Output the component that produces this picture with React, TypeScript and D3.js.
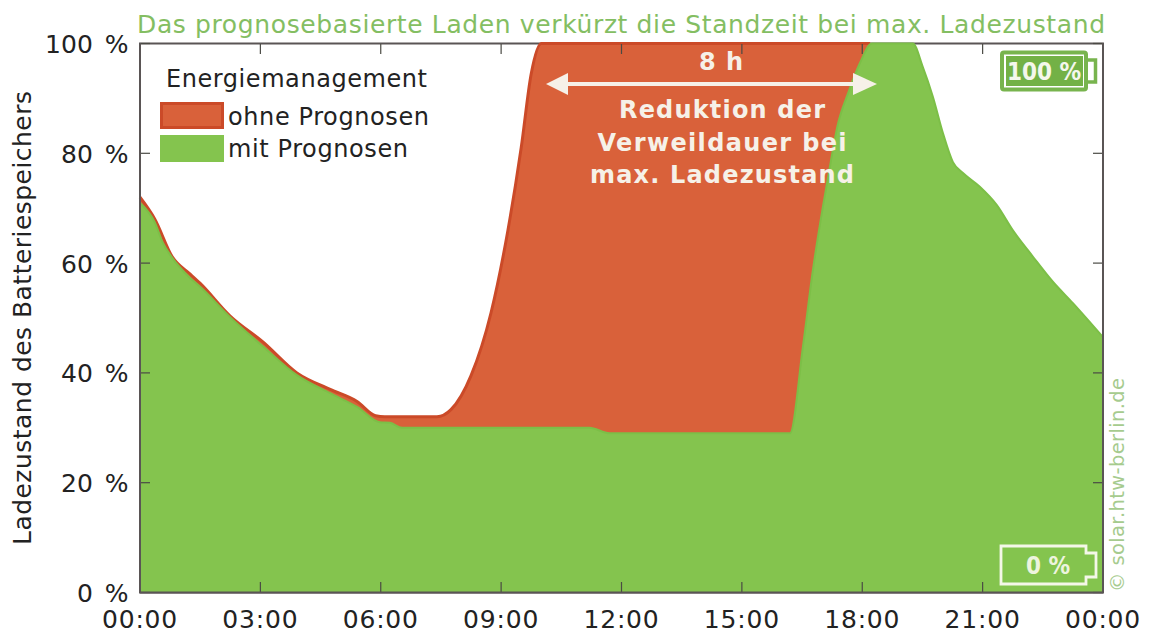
import React from "react";
import * as d3 from "d3";

const W = 1152, H = 640;
const greenHours = [0,.37,.57,.8,1.25,1.5,2.24,3.07,3.91,4.74,5.41,5.98,6.23,6.53,11.2,11.7,16.2,16.52,16.77,17.02,17.15,17.4,17.65,17.94,18.24,19.26,19.51,19.76,20.01,20.26,20.51,20.93,21.35,21.75,22.25,22.75,23.25,24];
const greenValues = [71,67.4,63.7,61,57.3,55.7,50.2,44.8,39.6,36.3,33.8,31,30.9,30,30,29,29,44.7,58.7,70.3,75.7,85.5,91,96.4,100,100,95.7,90.3,83.7,78.4,76.4,73.9,70.6,66,61.2,56.6,52.7,46.5];
const orangeHours = [0,.37,.8,1.25,1.5,2.24,3.07,3.91,4.74,5.41,5.87,6.1,7.4,7.75,8.25,8.75,9.17,9.5,9.75,10,18.2];
const orangeValues = [72,68,61.2,58,56.3,50.4,45.6,40,37,34.8,32.2,32,32,33.3,39.5,51,66,81,94.5,100,100];
const xTicks = [0,3,6,9,12,15,18,21,24];
const xLabels = ["00:00","03:00","06:00","09:00","12:00","15:00","18:00","21:00","00:00"];
const yTicks = [0,20,40,60,80,100];
const infoLines = ["Reduktion der","Verweildauer bei","max. Ladezustand"];
const infoWidths = [206,249,264];
const infoBaselines = [118,151,183];

const FONT = "'DejaVu Sans', sans-serif";
const GREEN = "#84C44E", GREEN_D = "#7CBF47", ORANGE = "#D9613A", ORANGE_D = "#CB4A28";
const AXIS = "#5a5555", TEXT = "#222", PALE = "#F6F1E8", TITLE = "#84BE62";

export default function App() {
  const x = d3.scaleLinear().domain([0, 24]).range([140, 1103]);
  const y = d3.scaleLinear().domain([0, 100]).range([592.5, 43.5]);
  const curve = d3.curveMonotoneX;
  const area = d3.area<[number, number]>().x(d => x(d[0])).y0(y(0)).y1(d => y(d[1])).curve(curve);
  const line = d3.line<[number, number]>().x(d => x(d[0])).y(d => y(d[1])).curve(curve);
  const green = greenHours.map((h, i) => [h, greenValues[i]] as [number, number]);
  const orange = orangeHours.map((h, i) => [h, orangeValues[i]] as [number, number]);
  return (
    <svg width={W} height={H} viewBox={`0 0 ${W} ${H}`} style={{ position: "absolute", left: 0, top: 0, display: "block" }} fontFamily={FONT}>
      <rect width={W} height={H} fill="#fff" />
      <text x={621} y={33} textAnchor="middle" fontSize={25} fill={TITLE} textLength={968} lengthAdjust="spacing">Das prognosebasierte Laden verkürzt die Standzeit bei max. Ladezustand</text>
      <rect x={140} y={43.5} width={963} height={549} fill="none" stroke={AXIS} strokeWidth={2} />
      <path d={area(orange) ?? ""} fill={ORANGE} />
      <path d={line(orange) ?? ""} fill="none" stroke={ORANGE_D} strokeWidth={3} />
      <path d={area(green) ?? ""} fill={GREEN} />
      <path d={line(green) ?? ""} fill="none" stroke={GREEN_D} strokeWidth={2} />
      <g stroke="#4a4a44" strokeWidth={1.2}>
        {xTicks.map(t => <g key={t}>
          <line x1={x(t)} x2={x(t)} y1={592} y2={582} />
          <line x1={x(t)} x2={x(t)} y1={44} y2={54} />
        </g>)}
        {yTicks.map(t => <g key={t}>
          <line x1={140} x2={150} y1={y(t)} y2={y(t)} />
          <line x1={1093} x2={1103} y1={y(t)} y2={y(t)} />
        </g>)}
      </g>
      <line x1={140} x2={140} y1={43} y2={593} stroke={AXIS} strokeWidth={2} />
      <line x1={140} x2={1103} y1={592.5} y2={592.5} stroke={AXIS} strokeWidth={2} />
      <line x1={1103} x2={1103} y1={43} y2={593} stroke={AXIS} strokeWidth={2} />
      {xTicks.map((t, i) => <text key={t} x={x(t)} y={628} textAnchor="middle" fontSize={25} letterSpacing={0.8} fill={TEXT}>{xLabels[i]}</text>)}
      {yTicks.map(t => <text key={t} x={128.5} y={y(t) + 9.5} textAnchor="end" fontSize={25} wordSpacing={4} fill={TEXT}>{`${t} %`}</text>)}
      <text transform="translate(31,318) rotate(-90)" textAnchor="middle" fontSize={25} fill={TEXT} textLength={454}>Ladezustand des Batteriespeichers</text>
      <text transform="translate(1124,485) rotate(-90)" textAnchor="middle" fontSize={19.5} fill="#A6CB8E" textLength={214}>© solar.htw-berlin.de</text>

      <text x={166} y={87} fontSize={24} fill={TEXT} textLength={261}>Energiemanagement</text>
      <rect x={161.5} y={103.5} width={61} height={24} fill={ORANGE} stroke={ORANGE_D} strokeWidth={3} />
      <rect x={160} y={135} width={64} height={27} fill={GREEN} />
      <text x={228} y={125} fontSize={24} fill={TEXT} textLength={201}>ohne Prognosen</text>
      <text x={228} y={157} fontSize={24} fill={TEXT} textLength={180}>mit Prognosen</text>

      <line x1={560} x2={860} y1={84} y2={84} stroke={PALE} strokeWidth={4} />
      <path d="M546 84 L568 73 L568 95 Z" fill={PALE} />
      <path d="M877 84 L853 73 L853 95 Z" fill={PALE} />
      <text x={721} y={70} textAnchor="middle" fontSize={24} fontWeight="bold" fill={PALE} textLength={44}>8 h</text>
      {infoLines.map((s, i) => <text key={s} x={722} y={infoBaselines[i]} textAnchor="middle" fontSize={24} fontWeight="bold" fill={PALE} textLength={infoWidths[i]}>{s}</text>)}

      <g>
        <path d="M1086 60 H1095.5 V82 H1086" fill="#fff" stroke="#78B44E" strokeWidth={3.5} />
        <rect x={1002} y={52.5} width={84} height={37} rx={2} fill="#fff" stroke="#78B44E" strokeWidth={4} />
        <rect x={1006} y={56} width={77} height={30} fill="#73B146" />
        <text x={1044} y={80} textAnchor="middle" fontSize={24} fontWeight="bold" fontFamily="'DejaVu Sans Condensed', 'DejaVu Sans', sans-serif" fill="#F4F7EC">100 %</text>
      </g>
      <g>
        <path d="M1001 546 H1086 V553 H1096 V577 H1086 V584 H1001 Z" fill="none" stroke="#F4F7E8" strokeWidth={2.8} />
        <text x={1048} y={574} textAnchor="middle" fontSize={24} fontWeight="bold" fontFamily="'DejaVu Sans Condensed', 'DejaVu Sans', sans-serif" fill="#EDF4DE">0 %</text>
      </g>
    </svg>
  );
}
